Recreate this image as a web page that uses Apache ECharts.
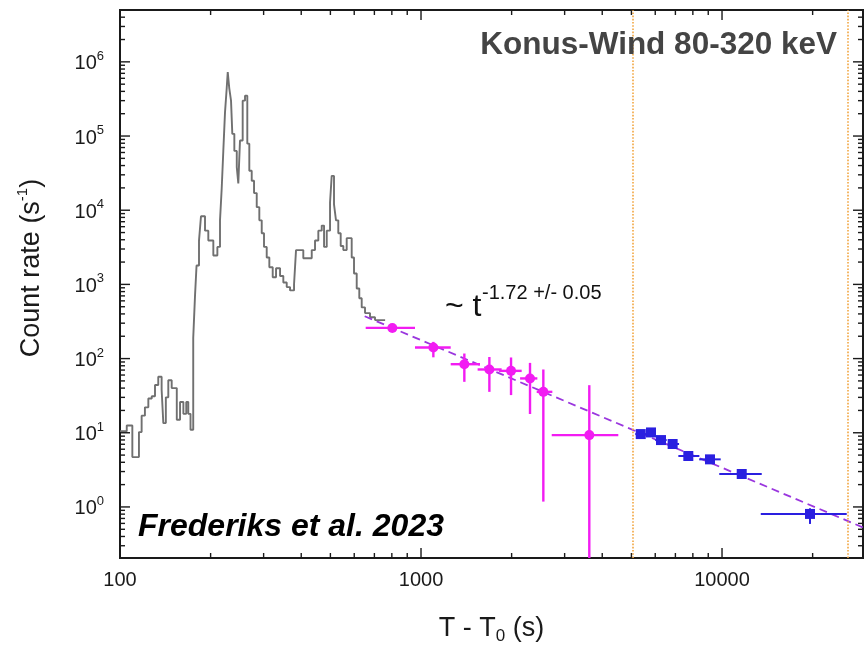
<!DOCTYPE html>
<html>
<head>
<meta charset="utf-8">
<script src="https://cdn.jsdelivr.net/npm/echarts@6/dist/echarts.min.js"></script>
<style>
  html, body { margin: 0; padding: 0; background: #fff; }
  #chart { width: 865px; height: 646px; }
</style>
</head>
<body>
<div id="chart"></div>
<script>
const FONT = "'Liberation Sans', Arial, Helvetica, sans-serif";

// Konus-Wind 80-320 keV light curve: bin start time (s) and count rate (1/s)
const burstTime = [100, 105.3, 109.9, 115.6, 118, 121, 124.2, 127.5, 130.7, 134, 137.5, 139.3, 142, 144.7,
  148.5, 151.5, 154.4, 158.3, 162.4, 166, 168.6, 171.5, 175.1, 177.5, 179.6, 183.0, 185.8, 191.6, 196.5,
  204.2, 210.6, 214.9, 217.7, 220.4, 223.3, 226.2, 228.0, 230.7, 233.8, 236.1, 239.8, 244.3, 247.2, 250.4,
  255.6, 260.2, 264.8, 268.9, 273.9, 278.8, 284.6, 290.3, 295.7, 300.9, 307.2, 313.4, 321.6, 329.9, 340.2,
  348.8, 358.0, 367.2, 378.6, 384.4, 406.4, 433.5, 444.5, 455.9, 467.9, 476.3, 486.2, 498.6, 505.0, 514.0,
  521.9, 531.1, 541.0, 551.9, 566.4, 588.5, 599.0, 611.5, 623.7, 635.3, 651.6, 677.0, 703.4, 760];
const burstRate = [10.5, 12.5, 4.7, 10.2, 17, 22, 29, 31, 44, 57, 38, 13.5, 30, 51,
  40, 40, 15, 26, 18, 26, 18, 11, 190, 700, 1800, 3900, 8300, 5300, 3900,
  2450, 3200, 7300, 19600, 63000, 2.1e5, 4.4e5, 7.3e5, 4.4e5, 3.0e5, 1.07e5, 6.3e4, 3.8e4, 2.3e4, 8.7e4,
  3.0e5, 3.5e5, 7.9e4, 3.4e4, 2.5e4, 1.7e4, 1.1e4, 7300, 4900, 3200, 2300, 1700, 1250, 1650, 1300,
  1060, 920, 830, 1000, 2900, 2250, 2900, 3900, 5300, 6200, 3200, 5300, 12700, 29000, 12000,
  7300, 4900, 3300, 2900, 4200, 2300, 1400, 880, 650, 490, 410, 360, 330, 330];

// Triggered-mode tail: [t, rate, tLow, tHigh, rateLow, rateHigh]
const pinkPoints = [
  [803, 259, 655, 955, 242, 278],
  [1099, 141, 955, 1255, 104, 168],
  [1393, 84, 1255, 1570, 48.6, 117],
  [1687, 71.3, 1542, 1853, 35.6, 105],
  [1991, 68.3, 1814, 2160, 32.2, 103.5],
  [2302, 54, 2134, 2435, 17.9, 87.5],
  [2549, 35.6, 2423, 2731, 1.18, 71.3],
  [3623, 9.3, 2718, 4523, 0.05, 43.8]
];
// Waiting-mode tail: [t, rate, tLow, tHigh, rateLow, rateHigh]
const bluePoints = [
  [5370, 9.6, 5150, 5660, 9.1, 10.1],
  [5808, 10.1, 5650, 5980, 9.6, 10.6],
  [6270, 7.97, 6000, 6550, 7.5, 8.45],
  [6854, 7.05, 6600, 7200, 6.65, 7.45],
  [7727, 4.86, 7160, 8408, 4.55, 5.18],
  [9120, 4.38, 8400, 9900, 4.1, 4.66],
  [11627, 2.78, 9790, 13550, 2.6, 2.97],
  [19600, 0.805, 13450, 25960, 0.59, 0.96]
];

// Power-law decay ~ t^-1.72 (end points)
const fitTime = [650, 30000];
const fitRate = [372, 0.511];

// Interval boundaries (dotted)
const intervalTimes = [5060, 26160];

// Axis ranges and labelled decades
const X_MIN = 100, X_MAX = 29400;
const Y_MIN = 0.205, Y_MAX = 5.0e6;
const xTickLabels = [100, 1000, 10000];
const yTickExponents = [0, 1, 2, 3, 4, 5, 6];

function isPow10(v) {
  const l = Math.log10(v);
  return Math.abs(l - Math.round(l)) < 1e-6;
}

// Tick values: decades (major) and 2..9 within each decade (minor)
const xMajorTicks = [], xMinorTicks = [], yMajorTicks = [], yMinorTicks = [];
for (let e = 2; e <= 4; e++) {
  const d = Math.pow(10, e);
  xMajorTicks.push(d);
  for (let k = 2; k <= 9; k++) if (k * d < X_MAX) xMinorTicks.push(k * d);
}
for (let e = -1; e <= 6; e++) {
  const d = Math.pow(10, e);
  if (d >= Y_MIN && d <= Y_MAX) yMajorTicks.push(d);
  for (let k = 2; k <= 9; k++) if (k * d > Y_MIN && k * d < Y_MAX) yMinorTicks.push(k * d);
}

// Inward ticks on all four sides of the frame
function renderTicks(params, api) {
  const cs = params.coordSys;
  const children = [];
  const style = { stroke: '#1a1a1a', lineWidth: 1.4 };
  const bottom = cs.y + cs.height, right = cs.x + cs.width;
  function xTick(v, len) {
    const x = api.coord([v, 1])[0];
    children.push({ type: 'line', shape: { x1: x, y1: bottom, x2: x, y2: bottom - len }, style: style });
    children.push({ type: 'line', shape: { x1: x, y1: cs.y, x2: x, y2: cs.y + len }, style: style });
  }
  function yTick(v, len) {
    const y = api.coord([1000, v])[1];
    children.push({ type: 'line', shape: { x1: cs.x, y1: y, x2: cs.x + len, y2: y }, style: style });
    children.push({ type: 'line', shape: { x1: right, y1: y, x2: right - len, y2: y }, style: style });
  }
  xMajorTicks.forEach(function (v) { xTick(v, 10); });
  xMinorTicks.forEach(function (v) { xTick(v, 5); });
  yMajorTicks.forEach(function (v) { yTick(v, 10); });
  yMinorTicks.forEach(function (v) { yTick(v, 5); });
  return { type: 'group', children: children };
}

function errorRenderer(color, marker, size, lw) {
  return function (params, api) {
    const cs = params.coordSys;
    const t = api.value(0), r = api.value(1);
    const c = api.coord([t, r]);
    const xl = api.coord([api.value(2), r])[0];
    const xh = api.coord([api.value(3), r])[0];
    const yl = Math.min(api.coord([t, api.value(4)])[1], cs.y + cs.height);
    const yh = api.coord([t, api.value(5)])[1];
    const style = { stroke: color, lineWidth: lw };
    const mark = marker === 'circle'
      ? { type: 'circle', shape: { cx: c[0], cy: c[1], r: size / 2 }, style: { fill: color } }
      : { type: 'rect', shape: { x: c[0] - size / 2, y: c[1] - size / 2, width: size, height: size }, style: { fill: color } };
    return { type: 'group', children: [
      { type: 'line', shape: { x1: xl, y1: c[1], x2: xh, y2: c[1] }, style: style },
      { type: 'line', shape: { x1: c[0], y1: yl, x2: c[0], y2: yh }, style: style },
      mark
    ] };
  };
}

const PINK = '#f21cf2';
const BLUE = '#2a1fe0';
const TEXT = '#1a1a1a';

const chart = echarts.init(document.getElementById('chart'), null, { renderer: 'canvas' });
chart.setOption({
  animation: false,
  backgroundColor: '#fff',
  grid: {
    left: 120, right: 2, top: 10, bottom: 88, outerBoundsMode: 'none',
    show: true, borderColor: '#1a1a1a', borderWidth: 2
  },
  xAxis: {
    type: 'log', min: X_MIN, max: X_MAX,
    axisLine: { show: false }, axisTick: { show: false }, splitLine: { show: false },
    axisLabel: {
      interval: 0, margin: 12, fontSize: 20, lineHeight: 20, fontFamily: FONT, color: TEXT,
      formatter: function (v) { return isPow10(v) && xTickLabels.indexOf(Math.round(v)) >= 0 ? String(Math.round(v)) : ''; }
    },
    name: '{a|T - T}{sub|0}{a| (s)}',
    nameLocation: 'middle', nameGap: 57,
    nameTextStyle: {
      rich: {
        a: { fontSize: 27, fontFamily: FONT, color: TEXT, lineHeight: 30, verticalAlign: 'top', padding: [0, 0, 7, 0] },
        sub: { fontSize: 17, fontFamily: FONT, color: TEXT, lineHeight: 17, verticalAlign: 'bottom' }
      }
    }
  },
  yAxis: {
    type: 'log', min: Y_MIN, max: Y_MAX, splitNumber: 10,
    axisLine: { show: false }, axisTick: { show: false }, splitLine: { show: false },
    axisLabel: {
      interval: 0, margin: 16,
      formatter: function (v) {
        if (!isPow10(v)) return '';
        const e = Math.round(Math.log10(v));
        return yTickExponents.indexOf(e) >= 0 ? '{b|10}{s|' + e + '}' : '';
      },
      rich: {
        b: { fontSize: 20, fontFamily: FONT, color: TEXT, lineHeight: 24, verticalAlign: 'bottom' },
        s: { fontSize: 13, fontFamily: FONT, color: TEXT, lineHeight: 13, verticalAlign: 'top' }
      }
    },
    name: '{a|Count rate (s}{sup|-1}{a|)}',
    nameLocation: 'middle', nameGap: 75,
    nameTextStyle: {
      padding: [0, 0, 0, 32],
      rich: {
        a: { fontSize: 27, fontFamily: FONT, color: TEXT, lineHeight: 30, verticalAlign: 'bottom' },
        sup: { fontSize: 15, fontFamily: FONT, color: TEXT, lineHeight: 15, verticalAlign: 'top' }
      }
    }
  },
  series: [
    {
      name: 'Konus-Wind', type: 'line', step: 'end', showSymbol: false, z: 2,
      data: burstTime.map(function (t, i) { return [t, burstRate[i]]; }),
      lineStyle: { color: '#707070', width: 1.9 },
      markLine: {
        silent: true, symbol: 'none', label: { show: false },
        lineStyle: { color: '#f2a640', width: 1.6, type: 'dotted' },
        data: intervalTimes.map(function (t) { return { xAxis: t }; })
      }
    },
    {
      name: 'fit', type: 'line', showSymbol: false, z: 3,
      data: fitTime.map(function (t, i) { return [t, fitRate[i]]; }),
      lineStyle: { color: '#9a36de', width: 1.8, type: [8, 5] }
    },
    {
      name: 'triggered', type: 'custom', z: 4, encode: { x: 0, y: 1 },
      renderItem: errorRenderer(PINK, 'circle', 10, 2.4), data: pinkPoints
    },
    {
      name: 'waiting', type: 'custom', z: 4, encode: { x: 0, y: 1 },
      renderItem: errorRenderer(BLUE, 'rect', 10, 2), data: bluePoints
    },
    {
      name: 'frame ticks', type: 'custom', z: 5, encode: { x: 0, y: 1 },
      renderItem: renderTicks, data: [[1000, 1]]
    }
  ],
  graphic: [
    { type: 'text', z: 10, style: { x: 837, y: 45, text: 'Konus-Wind 80-320 keV', fontFamily: FONT, fontSize: 31.5, fontWeight: 'bold', fill: '#444', align: 'right', verticalAlign: 'middle' } },
    { type: 'text', z: 10, style: { x: 138, y: 527, text: 'Frederiks et al. 2023', fontFamily: FONT, fontSize: 32, fontWeight: 'bold', fontStyle: 'italic', fill: '#000', align: 'left', verticalAlign: 'middle' } },
    { type: 'text', z: 10, style: { x: 445, y: 307, text: '~ t', fontFamily: FONT, fontSize: 32, fill: '#111', align: 'left', verticalAlign: 'middle' } },
    { type: 'text', z: 10, style: { x: 482, y: 293, text: '-1.72 +/- 0.05', fontFamily: FONT, fontSize: 20, fill: '#111', align: 'left', verticalAlign: 'middle' } }
  ]
});
</script>
</body>
</html>
